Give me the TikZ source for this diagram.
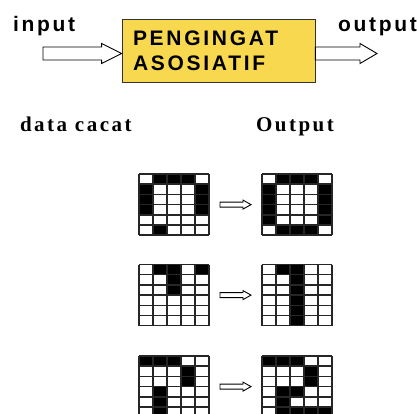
\documentclass[tikz,border=0pt]{standalone}
\usepackage{fontspec}
\setmainfont{Liberation Serif}
\setsansfont{Liberation Sans}
\usepackage{tikz}
\usetikzlibrary{calc}
\newfontfamily\sanslabel{Liberation Sans}[LetterSpace=13]
\newfontfamily\seriflabel{Liberation Serif}[LetterSpace=12]
\definecolor{kuning}{RGB}{248,216,78}
\tikzstyle{every label node}=[inner sep=0pt,outer sep=0pt,anchor=base west]
\tikzstyle{toplabel}=[every label node,font=\sanslabel\bfseries\fontsize{21}{25}\selectfont]
\tikzstyle{headlabel}=[every label node,font=\seriflabel\bfseries\fontsize{21}{25}\selectfont]
\tikzstyle{prosesbox}=[draw=black!80,line width=0.8pt,fill=kuning,minimum width=193pt,minimum height=63pt,inner xsep=11pt,text width=171pt,align=left,font=\sanslabel\bfseries\fontsize{21}{25}\selectfont]
\tikzstyle{gridbox}=[inner sep=0pt,outer sep=0pt,minimum width=70pt,minimum height=61.2pt]
\tikzstyle{gridline}=[black!85,line width=1.5pt]
\tikzstyle{arrowline}=[draw=black,line width=0.9pt,fill=white,line join=miter]

% from, to, half shaft, half head, head length
\newcommand\hollowarrow[5]{%
  \draw[arrowline] let \p1=(#1), \p2=(#2) in
    (\x1,\y1+#3pt) -- (\x2-#5pt,\y1+#3pt) -- (\x2-#5pt,\y1+#4pt) -- (\x2,\y1)
    -- (\x2-#5pt,\y1-#4pt) -- (\x2-#5pt,\y1-#3pt) -- (\x1,\y1-#3pt) -- cycle;}

% name, left, top, black cells col/row
\newcommand\pixgrid[4]{%
  \node[gridbox] (#1) at ({#2+35},{#3+30.6}) {};
  \foreach \c/\r in {#4}
    \fill ({#2+(\c-1)*14},{#3+(\r-1)*10.2}) rectangle ++(14,10.2);
  \foreach \i in {0,...,5}
    \draw[gridline] ({#2+\i*14},#3) -- ++(0,61.2);
  \foreach \j in {0,...,6}
    \draw[gridline] (#2,{#3+\j*10.2}) -- ++(70,0);
}

\begin{document}
\begin{tikzpicture}[x=1pt,y=-1pt]
\clip (0,0) rectangle (417,414);
\fill[white] (0,0) rectangle (417,414);

\node[toplabel] (input) at (13,31.7) {input};
\node[toplabel] (output) at (338,31.7) {output};
\node[prosesbox] (box) at (218.5,50.5) {PENGINGAT\\ASOSIATIF};
\coordinate (inS) at (43,53.5);
\coordinate (outE) at (377,53.5);
\hollowarrow{inS}{box.west |- inS}{6.5}{10}{20}
\hollowarrow{box.east |- outE}{outE}{6.5}{10}{17}

\node[headlabel] (cacat) at (20,131.7) {data cacat};
\node[headlabel] (hasil) at (256,131.7) {Output};

\pixgrid{g1l}{139}{174}{2/1,3/1,4/1,1/2,5/2,1/3,5/3,1/4,5/4,2/6}
\pixgrid{g1r}{262}{174}{2/1,3/1,4/1,1/2,5/2,1/3,5/3,1/4,5/4,1/5,5/5,2/6,3/6,4/6}
\pixgrid{g2l}{139}{264.5}{2/1,3/1,5/1,3/2,3/3}
\pixgrid{g2r}{262}{264.5}{2/1,3/1,3/2,3/3,3/4,3/5,3/6}
\pixgrid{g3l}{139}{356}{1/1,2/1,3/1,4/2,4/3,2/4,2/5,2/6}
\pixgrid{g3r}{262}{356}{1/1,2/1,3/1,4/2,4/3,2/4,3/4,2/5,2/6,3/6,4/6,5/6}

\hollowarrow{$(g1l.east)+(11,0)$}{$(g1r.west)+(-11,0)$}{2.5}{4.5}{8}
\hollowarrow{$(g2l.east)+(11,0)$}{$(g2r.west)+(-11,0)$}{2.5}{4.5}{8}
\hollowarrow{$(g3l.east)+(11,0)$}{$(g3r.west)+(-11,0)$}{2.5}{4.5}{8}
\end{tikzpicture}
\end{document}
